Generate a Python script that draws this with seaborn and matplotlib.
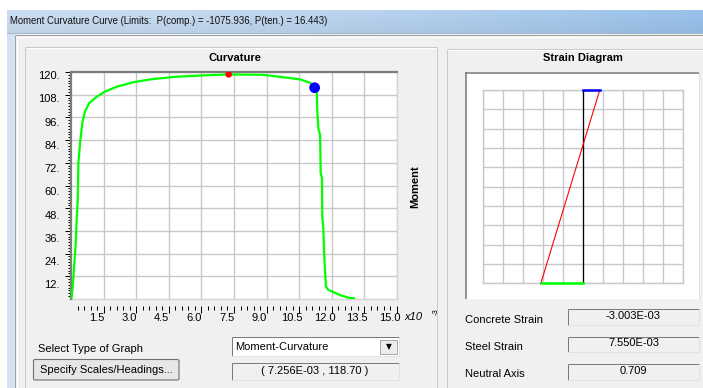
import numpy as np
import matplotlib
matplotlib.use("Agg")
import matplotlib.pyplot as plt
from matplotlib import font_manager
from matplotlib.patches import Rectangle, FancyBboxPatch
from matplotlib.lines import Line2D
import seaborn as sns

# Moment-curvature response: curvature (x1e-3) and moment
curvature = [0.02, 0.08, 0.15, 0.22, 0.26, 0.31, 0.34, 0.43, 0.52, 0.64, 0.84, 1.18,
             1.56, 2.10, 2.87, 3.64, 4.86, 6.24, 7.256, 8.85, 9.93, 10.54, 11.00,
             11.21, 11.31, 11.33, 11.38, 11.46, 11.49, 11.55, 11.56, 11.61, 11.66,
             11.73, 11.84, 12.38, 12.76, 13.02]
moment = [0.0, 6.5, 18.0, 30.1, 41.8, 52.3, 71.9, 84.0, 93.0, 99.0, 103.6, 106.9,
          109.6, 112.2, 114.6, 116.1, 117.5, 118.3, 118.70, 118.5, 117.0, 116.1, 114.3,
          111.7, 108.7, 99.9, 90.2, 86.7, 66.4, 64.0, 43.5, 37.5, 20.6,
          6.5, 4.8, 2.1, 0.7, 0.4]

# peak point (red) and current point (blue)
peak_curvature = 7.256
peak_moment = 118.70
current_curvature = 11.21
current_moment = 111.7

x_ticks = [1.5, 3.0, 4.5, 6.0, 7.5, 9.0, 10.5, 12.0, 13.5, 15.0]
x_tick_labels = ["1.5", "3.0", "4.5", "6.0", "7.5", "9.0", "10.5", "12.0", "13.5", "15.0"]
y_ticks = [12, 24, 36, 48, 60, 72, 84, 96, 108, 120]
y_tick_labels = ["12.", "24.", "36.", "48.", "60.", "72.", "84.", "96.", "108.", "120."]

# section state
p_comp = -1075.936
p_ten = 16.443
concrete_strain = -3.003e-3
steel_strain = 7.550e-3
neutral_axis = 0.709
graph_type = "Moment-Curvature"

plt.rcParams["font.family"] = ["Liberation Sans", "DejaVu Sans"]

# narrow face for the caption if available
installed = {f.name for f in font_manager.fontManager.ttflist}
if "Liberation Sans Narrow" in installed:
    caption_family, caption_size = ["Liberation Sans Narrow", "Liberation Sans"], 8.4
else:
    caption_family, caption_size = ["Liberation Sans", "DejaVu Sans"], 6.95

W, H = 703, 388
fig = plt.figure(figsize=(W / 100, H / 100), dpi=100)
fig.patch.set_facecolor("#f0f0f0")


def fx(x):
    return x / W


def fy(y):
    return 1 - y / H


def box(x0, y0, x1, y1, fc, ec="none", lw=0, z=0):
    fig.add_artist(Rectangle((fx(x0), fy(y1)), (x1 - x0) / W, (y1 - y0) / H,
                             transform=fig.transFigure, facecolor=fc, edgecolor=ec,
                             linewidth=lw, zorder=z))


def seg(xs, ys, color, lw=1.0, z=1):
    fig.add_artist(Line2D([fx(x) for x in xs], [fy(y) for y in ys],
                          transform=fig.transFigure, color=color, linewidth=lw * 0.72,
                          zorder=z, solid_capstyle="butt"))


def sunken(x0, y0, x1, y1, fc):
    box(x0, y0, x1, y1, fc)
    seg([x0, x1], [y0, y0], "#7a7a7a")
    seg([x0, x0], [y0, y1], "#7a7a7a")
    seg([x0, x1], [y1, y1], "#e3e3e3")
    seg([x1, x1], [y0, y1], "#e3e3e3")


def label(x, y, s, **kw):
    kw.setdefault("fontsize", 8)
    kw.setdefault("va", "center")
    fig.text(fx(x), fy(y), s, color="#000000", **kw)


# window frame and title bar
box(0, 0, W, 10, "#ffffff")
box(0, 10, 7, H, "#ffffff")
box(7, 33, 15, H, "#d3e1f0")
tb = fig.add_axes([fx(7), fy(33), (W - 7) / W, 23 / H])
gx = np.linspace(0, 1, 200)
gy = np.linspace(0, 1, 20)
GX, GY = np.meshgrid(gx, gy)
left_c = np.array([0.80, 0.87, 0.95])
right_c = np.array([0.60, 0.76, 0.92])
grad = left_c[None, None, :] * (1 - GX[..., None] ** 1.5) + right_c[None, None, :] * GX[..., None] ** 1.5
grad = grad * (1 - 0.05 * GY[..., None])
tb.imshow(grad, aspect="auto", extent=[0, 1, 0, 1], origin="upper")
tb.set_axis_off()
seg([7, W], [33, 33], "#9fb6cf")
fig.text(fx(10), fy(21), f"Moment Curvature Curve (Limits:  P(comp.) = {p_comp:.3f}, P(ten.) = {p_ten:.3f})",
         fontsize=caption_size, family=caption_family, va="center", color="#111111")

# dialog inner frame
seg([15, 15], [35, H], "#a0a0a0")
seg([17, 17], [36, H], "#ffffff")
seg([15, W], [35, 35], "#a0a0a0")
seg([17, W], [37, 37], "#ffffff")

# group boxes
seg([25, 437], [47, 47], "#c9c9c9")
seg([25, 25], [47, H], "#c9c9c9")
seg([437, 437], [47, H], "#c9c9c9")
seg([26, 436], [48, 48], "#ffffff")
seg([447, W], [49, 49], "#c9c9c9")
seg([447, 447], [49, H], "#c9c9c9")
seg([448, W], [50, 50], "#ffffff")

label(235, 58, "Curvature", ha="center", fontweight="bold")
label(583, 58, "Strain Diagram", ha="center", fontweight="bold")
label(415, 187, "Moment", ha="center", rotation=90, fontweight="bold")

# ---- moment-curvature plot ----
ax = fig.add_axes([fx(71), fy(299), 326 / W, 227 / H])
ax.set_facecolor("#ffffff")
sns.lineplot(x=curvature, y=moment, sort=False, estimator=None, color="#00ff00",
             linewidth=1.6, ax=ax, zorder=3)
sns.scatterplot(x=[peak_curvature], y=[peak_moment], color="#ff0000", s=22,
                edgecolor="none", ax=ax, zorder=4)
sns.scatterplot(x=[current_curvature], y=[current_moment], color="#0000ff", s=60,
                edgecolor="none", ax=ax, zorder=4)
ax.set_xlim(0, 15)
ax.set_ylim(0, 120)
ax.set_xticks(x_ticks)
ax.set_xticks(np.arange(0.3, 15.0, 0.3), minor=True)
ax.set_yticks(y_ticks)
ax.set_yticks(np.arange(1.5, 120.0, 1.5), minor=True)
ax.grid(True, which="major", color="#c8c8c8", linewidth=1.0)
ax.set_axisbelow(True)
ax.tick_params(which="both", direction="out", color="#000000", width=0.72,
               labelbottom=False, labelleft=False)
ax.tick_params(axis="x", which="major", length=5.0)
ax.tick_params(axis="x", which="minor", length=2.9)
ax.tick_params(axis="y", which="major", length=4.3)
ax.tick_params(axis="y", which="minor", length=2.2)
ax.spines["bottom"].set_position(("outward", 5))
ax.spines["bottom"].set_visible(False)
ax.axhline(0, color="#d4d4d4", linewidth=1.0, clip_on=False, zorder=1)
ax.spines["top"].set_color("#7c7c7c")
ax.spines["top"].set_linewidth(1.6)
ax.spines["left"].set_color("#7c7c7c")
ax.spines["left"].set_linewidth(1.6)
ax.spines["right"].set_color("#d4d4d4")
ax.spines["right"].set_linewidth(1.0)
ax.set_xlabel("")
ax.set_ylabel("")

for v, s in zip(x_ticks, x_tick_labels):
    ax.annotate(s, xy=(v, 0), xycoords=("data", "axes fraction"), xytext=(-7, -19),
                textcoords="offset pixels", ha="center", va="center", fontsize=8)
for v, s in zip(y_ticks, y_tick_labels):
    drop = 4 + (120 - v) / 108 * 5
    ax.annotate(s, xy=(0, v), xycoords=("axes fraction", "data"), xytext=(-11, -drop),
                textcoords="offset pixels", ha="right", va="center", fontsize=8)

fig.text(fx(404), fy(317), "x10", fontsize=8, style="italic", va="center")
fig.text(fx(433), fy(312), "-3", fontsize=5.5, va="center", rotation=90)

# ---- strain diagram ----
box(465, 72, 699, 299, "#ffffff")
seg([465, 699], [72.5, 72.5], "#7c7c7c", lw=1.6)
seg([465.5, 465.5], [72, 299], "#7c7c7c", lw=1.6)
seg([699, 699], [72, 299], "#e0e0e0")

span = 17.85
ax2 = fig.add_axes([fx(483.3), fy(283.3), 199.4 / W, 193.3 / H])
ax2.set_facecolor("#ffffff")
ax2.set_xlim(-span, span)
ax2.set_ylim(0, 1)
ax2.set_xticks(np.linspace(-span, span, 11))
ax2.set_yticks(np.linspace(0, 1, 11))
ax2.grid(True, color="#c8c8c8", linewidth=1.0)
ax2.set_axisbelow(True)
ax2.tick_params(length=0, labelbottom=False, labelleft=False)
for sp in ax2.spines.values():
    sp.set_color("#c8c8c8")
    sp.set_linewidth(1.0)

top_x = -concrete_strain * 1000
bot_x = -steel_strain * 1000
sns.lineplot(x=[0, 0], y=[0, 1], color="#000000", linewidth=0.9, ax=ax2,
             estimator=None, sort=False, zorder=3)
sns.lineplot(x=[bot_x, top_x], y=[0, 1], color="#ff0000", linewidth=0.8, ax=ax2,
             estimator=None, sort=False, zorder=4)
sns.lineplot(x=[0, top_x], y=[1, 1], color="#0000ff", linewidth=1.8, ax=ax2,
             estimator=None, sort=False, zorder=5)
sns.lineplot(x=[bot_x, 0], y=[0, 0], color="#00ff00", linewidth=1.8, ax=ax2,
             estimator=None, sort=False, zorder=5)
for line in ax2.lines:
    line.set_clip_on(False)
ax2.set_xlabel("")
ax2.set_ylabel("")

# ---- section readouts ----
label(465, 320, "Concrete Strain")
label(465, 347, "Steel Strain")
label(465, 374, "Neutral Axis")
for y0, y1, s in [(309.3, 325, f"{concrete_strain:.3E}"),
                  (336.7, 352.3, f"{steel_strain:.3E}"),
                  (364, 380, f"{neutral_axis:.3f}")]:
    sunken(568.3, y0, 699, y1, "#f0f0f0")
    label(633.5, (y0 + y1) / 2 - 1, s, ha="center")

# ---- controls ----
label(38, 349.5, "Select Type of Graph")
sunken(231.7, 337.3, 399, 356, "#ffffff")
box(380, 339.5, 397, 354, "#ececec", ec="#a8a8a8", lw=0.7)
label(388.5, 346.8, "\u25bc", ha="center", fontsize=5.5, family="DejaVu Sans")
label(235, 346.8, graph_type)
sunken(231.7, 362.7, 399, 380, "#f0f0f0")
label(315, 371, f"( {peak_curvature * 1e-3:.3E} , {peak_moment:.2f} )", ha="center")

btn = FancyBboxPatch((fx(33.5), fy(380)), (179 - 33.5) / W, (380 - 359.5) / H,
                     boxstyle="round,pad=0,rounding_size=0.003", transform=fig.transFigure,
                     facecolor="#e6e6e6", edgecolor="#707070", linewidth=0.8)
fig.add_artist(btn)
label(106, 370, "Specify Scales/Headings...", ha="center")

fig.savefig("out.png", dpi=100, facecolor=fig.get_facecolor())
